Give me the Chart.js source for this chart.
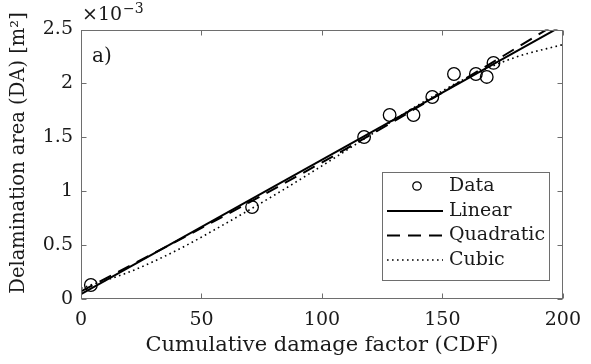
<!DOCTYPE html>
<html><head><meta charset="utf-8">
<script src="https://cdn.jsdelivr.net/npm/chart.js@4"></script>
<style>html,body{margin:0;padding:0;background:#fff}#wrap{width:591px;height:364px}</style>
</head><body><div id="wrap"><canvas id="c" width="591" height="364"></canvas></div>
<script>
// ---- data (DA in units of 1e-3 m^2) ----
const dataCDF   = [4.1, 71, 117.5, 128.1, 138, 145.8, 154.8, 163.9, 168.4, 171.2];
const dataDA    = [0.13, 0.853, 1.503, 1.707, 1.707, 1.874, 2.087, 2.087, 2.06, 2.19];
const linearCDF = [0, 200];
const linearDA  = [0.046, 2.538];
const quadCDF   = [0, 40, 80, 120, 160, 200];
const quadDA    = [0.07, 0.54, 1.02, 1.52, 2.05, 2.59];
const cubicCDF  = [0, 20, 40, 60, 80, 100, 120, 140, 160, 180, 200];
const cubicDA   = [0.10, 0.25, 0.455, 0.70, 0.96, 1.235, 1.52, 1.80, 2.05, 2.24, 2.36];
const xTicks = [0, 50, 100, 150, 200];
const yTicks = [0, 0.5, 1, 1.5, 2, 2.5];
const seriesNames = ['Data', 'Linear', 'Quadratic', 'Cubic'];
const xTitle = 'Cumulative damage factor (CDF)';
const yTitle = 'Delamination area (DA) [m²]';
const panelLabel = 'a)';

const FONT = "'DejaVu Serif', serif";
const TXT = '#1a1a1a';
const AX = '#6e6e6e';
const pts = (xs, ys) => xs.map((x, i) => ({x: x, y: ys[i]}));

const decorPlugin = {
  id: 'decor',
  afterDatasetsDraw(chart) {
    const ctx = chart.ctx, a = chart.chartArea, xs = chart.scales.x, ys = chart.scales.y;
    ctx.save();
    // frame
    ctx.strokeStyle = AX; ctx.lineWidth = 1;
    const L = Math.round(a.left) + 0.5, R = Math.round(a.right) - 0.5, T = Math.round(a.top) + 0.5, B = Math.round(a.bottom) - 0.5;
    ctx.strokeRect(L, T, R - L, B - T);
    // inward ticks on all sides
    const tl = 5;
    ctx.beginPath();
    xTicks.forEach(v => {
      const p = Math.round(xs.getPixelForValue(v)) + 0.5;
      ctx.moveTo(p, B); ctx.lineTo(p, B - tl);
      ctx.moveTo(p, T); ctx.lineTo(p, T + tl);
    });
    yTicks.forEach(v => {
      const p = Math.round(ys.getPixelForValue(v)) + 0.5;
      ctx.moveTo(L, p); ctx.lineTo(L + tl, p);
      ctx.moveTo(R, p); ctx.lineTo(R - tl, p);
    });
    ctx.stroke();
    // exponent
    ctx.fillStyle = TXT; ctx.textBaseline = 'middle'; ctx.textAlign = 'left';
    ctx.font = '19px ' + FONT;
    ctx.fillText('×10', a.left + 1, 15);
    const w = ctx.measureText('×10').width;
    ctx.font = '14px ' + FONT;
    ctx.fillText('−3', a.left + 2 + w, 9);
    // panel label
    ctx.font = '20px ' + FONT;
    ctx.fillText(panelLabel, a.left + 11, 57);
    // y title
    ctx.save();
    ctx.translate(19, 153);
    ctx.rotate(-Math.PI / 2);
    ctx.textAlign = 'center';
    ctx.font = '19.5px ' + FONT;
    ctx.fillText(yTitle, 0, 0);
    ctx.restore();
    // legend
    const bx = 382, by = 172, bw = 167, bh = 108;
    ctx.fillStyle = '#fff'; ctx.fillRect(bx, by, bw, bh);
    ctx.strokeStyle = AX; ctx.lineWidth = 1; ctx.strokeRect(bx + 0.5, by + 0.5, bw, bh);
    const rows = [186, 211, 235.5, 260];
    chart.data.datasets.forEach((ds, i) => {
      const y = rows[i];
      ctx.strokeStyle = ds.borderColor;
      if (i === 0) {
        ctx.setLineDash([]); ctx.lineWidth = ds.borderWidth;
        ctx.beginPath(); ctx.arc(417, y, 4.2, 0, Math.PI * 2); ctx.stroke();
      } else {
        ctx.setLineDash(ds.borderDash || []); ctx.lineWidth = ds.borderWidth;
        ctx.beginPath(); ctx.moveTo(387, y); ctx.lineTo(443, y); ctx.stroke();
      }
      ctx.setLineDash([]);
      ctx.fillStyle = TXT; ctx.font = '19px ' + FONT; ctx.textAlign = 'left'; ctx.textBaseline = 'middle';
      ctx.fillText(ds.label, 449, y);
    });
    ctx.restore();
  }
};

new Chart(document.getElementById('c').getContext('2d'), {
  type: 'scatter',
  data: {
    datasets: [
      {label: seriesNames[0], data: pts(dataCDF, dataDA), showLine: false, pointStyle: 'circle',
       pointRadius: 6.3, pointBorderWidth: 1.3, borderWidth: 1.3, borderColor: '#000', backgroundColor: 'rgba(0,0,0,0)',
       pointBorderColor: '#000', pointBackgroundColor: 'rgba(0,0,0,0)', clip: false},
      {label: seriesNames[1], data: pts(linearCDF, linearDA), showLine: true, borderColor: '#000', borderWidth: 2,
       pointRadius: 0, clip: 0},
      {label: seriesNames[2], data: pts(quadCDF, quadDA), showLine: true, borderColor: '#000', borderWidth: 2,
       borderDash: [13, 8], pointRadius: 0, cubicInterpolationMode: 'monotone', clip: 0},
      {label: seriesNames[3], data: pts(cubicCDF, cubicDA), showLine: true, borderColor: '#000', borderWidth: 1.6,
       borderDash: [1.6, 3.4], pointRadius: 0, cubicInterpolationMode: 'monotone', clip: 0}
    ]
  },
  options: {
    responsive: false, animation: false, devicePixelRatio: 1,
    layout: {padding: {top: 29.5, right: 23, left: 0, bottom: 0}},
    plugins: {legend: {display: false}, tooltip: {enabled: false}},
    scales: {
      x: {
        type: 'linear', min: 0, max: 200,
        afterBuildTicks: s => { s.ticks = xTicks.map(v => ({value: v})); },
        afterFit: s => { s.height = 65; },
        ticks: {font: {family: FONT, size: 19}, color: TXT, padding: 10, maxRotation: 0, autoSkip: false,
                callback: v => String(v)},
        grid: {display: false, drawTicks: false, tickLength: 0},
        border: {display: false},
        title: {display: true, text: xTitle, color: TXT, font: {family: FONT, size: 21}, padding: {top: 0, bottom: 6}}
      },
      y: {
        type: 'linear', min: 0, max: 2.5,
        afterBuildTicks: s => { s.ticks = yTicks.map(v => ({value: v})); },
        afterFit: s => { s.width = 81; },
        ticks: {font: {family: FONT, size: 19}, color: TXT, padding: 8, autoSkip: false,
                callback: v => String(v)},
        grid: {display: false, drawTicks: false, tickLength: 0},
        border: {display: false}
      }
    }
  },
  plugins: [decorPlugin]
});
</script>
</body></html>
